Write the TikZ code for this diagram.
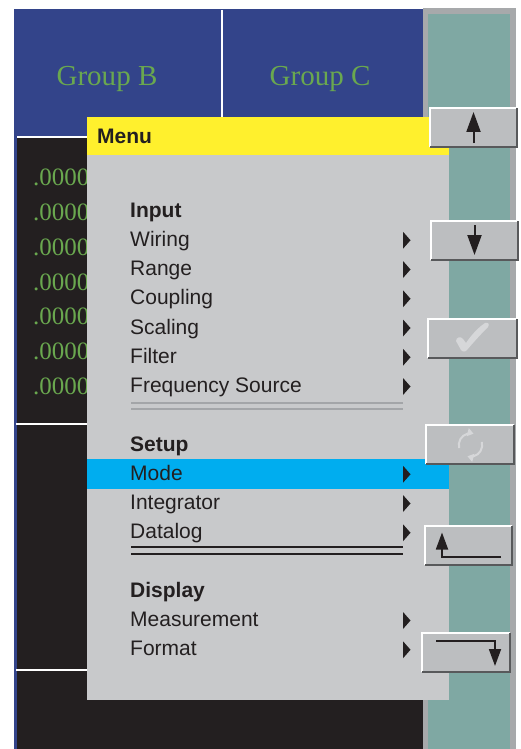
\documentclass[tikz,border=0pt]{standalone}
\usepackage{fontspec}
\setmainfont{Liberation Serif}
\newfontfamily\hvfont{Liberation Sans}
\usetikzlibrary{arrows.meta,calc}
\definecolor{panelblue}{HTML}{33448A}
\definecolor{grpgreen}{HTML}{6AA84F}
\definecolor{scrblack}{HTML}{231F20}
\definecolor{colgray}{HTML}{A7A9AB}
\definecolor{colteal}{HTML}{7FA8A3}
\definecolor{menugray}{HTML}{C8C9CB}
\definecolor{menuyellow}{HTML}{FFF02D}
\definecolor{hicyan}{HTML}{00ADEF}
\definecolor{btngray}{HTML}{BCBEC0}
\definecolor{btndark}{HTML}{58595B}
\definecolor{seplight}{HTML}{A3A5A8}
\definecolor{iconlight}{HTML}{D6D7D9}
\tikzset{
  grouptext/.style={text=grpgreen, font=\fontsize{29}{30}\selectfont, inner sep=0pt, anchor=base},
  numtext/.style={text=grpgreen, font=\fontsize{25}{26}\selectfont, inner sep=0pt, anchor=base west},
  itemtext/.style={text=scrblack, font=\hvfont\fontsize{21}{22}\selectfont, inner sep=0pt, anchor=base west},
  headtext/.style={itemtext, font=\hvfont\bfseries\fontsize{21}{22}\selectfont},
  btnbox/.style={fill=btngray, inner sep=0pt, outer sep=0pt, minimum height=39pt},
  litedge/.style={white, line width=2pt},
  drkedge/.style={btndark, line width=2pt},
  btnarrow/.style={scrblack, line width=2pt, -{Triangle[length=20pt,width=14pt]}},
  btnarrowsm/.style={scrblack, line width=1.8pt, -{Triangle[length=17pt,width=12pt]}},
  refarc/.style={iconlight, line width=2pt, -{Triangle[length=6pt,width=8pt]}},
  sublight/.style={seplight, line width=2pt},
  subdark/.style={scrblack, line width=2pt},
  wline/.style={white, line width=2pt}
}
\begin{document}
\begin{tikzpicture}[x=1pt,y=-1pt]
\useasboundingbox (0,0) rectangle (521,749);
\fill[white] (0,0) rectangle (521,749);
% screen
\fill[panelblue] (14,9) rectangle (423,749);
\fill[scrblack] (17,138) rectangle (423,749);
\fill[colgray] (423,8) rectangle (516,749);
\fill[colteal] (428,14) rectangle (510,749);
\draw[wline] (222,10) -- (222,118);
\draw[wline] (17,137) -- (88,137);
\draw[wline] (16,424) -- (88,424);
\draw[wline] (16,670) -- (88,670);
\node[grouptext] (grpB) at (107,86) {Group B};
\node[grouptext] (grpC) at (320,86) {Group C};
\foreach \i/\yy in {1/185,2/220,3/255,4/290,5/324,6/359,7/394}
  \node[numtext] (num\i) at (33,\yy) {.0000};
% menu
\fill[menugray] (87,155) rectangle (449,700);
\fill[menuyellow] (87,117) rectangle (449,155);
\fill[hicyan] (87,459) rectangle (449,489);
\node[headtext] (mtitle) at (97,143) {Menu};
\node[headtext] (hInput) at (130,217) {Input};
\node[itemtext] (iWiring) at (130,246.25) {Wiring};
\node[itemtext] (iRange) at (130,275.5) {Range};
\node[itemtext] (iCoupling) at (130,304.75) {Coupling};
\node[itemtext] (iScaling) at (130,334) {Scaling};
\node[itemtext] (iFilter) at (130,363.25) {Filter};
\node[itemtext] (iFreq) at (130,392.5) {Frequency Source};
\node[headtext] (hSetup) at (130,451) {Setup};
\node[itemtext] (iMode) at (130,480.25) {Mode};
\node[itemtext] (iIntegrator) at (130,509.5) {Integrator};
\node[itemtext] (iDatalog) at (130,538.75) {Datalog};
\node[headtext] (hDisplay) at (130,597.25) {Display};
\node[itemtext] (iMeas) at (130,626.5) {Measurement};
\node[itemtext] (iFormat) at (130,655.75) {Format};
\draw[sublight] (131,402.7) -- (403,402.7);
\draw[sublight] (131,409.3) -- (403,409.3);
\draw[subdark] (131,546.7) -- (403,546.7);
\draw[subdark] (131,553.7) -- (403,553.7);
\foreach \b in {246.25,275.5,304.75,334,363.25,392.5,480.25,509.5,538.75,626.5,655.75}
  \fill[scrblack] (403,\b-14.5) -- (410.5,\b-6) -- (403,\b+2.5) -- cycle;
% buttons
\node[btnbox, minimum width=87pt] (bUp) at (473.5,127.5) {};
\node[btnbox, minimum width=87pt] (bDown) at (474.5,240.5) {};
\node[btnbox, minimum width=89pt] (bOk) at (472.5,338.5) {};
\node[btnbox, minimum width=88pt] (bRef) at (470,444.5) {};
\node[btnbox, minimum width=87pt] (bBack) at (468.5,545.5) {};
\node[btnbox, minimum width=88pt] (bNext) at (466,652.5) {};
\foreach \n in {bUp,bDown,bOk,bRef,bBack,bNext}{
  \draw[litedge] (\n.south west) -- (\n.north west) -- (\n.north east);
  \draw[drkedge] (\n.south west) -- (\n.south east) -- (\n.north east);
}
\draw[btnarrow] ($(bUp)+(0,15.5)$) -- ($(bUp)+(0,-15.5)$);
\draw[btnarrow] ($(bDown)+(0,-15.5)$) -- ($(bDown)+(0,14.5)$);
% check mark icon
\fill[iconlight] (456,341) .. controls (456,337) and (461,336) .. (463,339)
  -- (466,343) .. controls (472,334) and (479,327) .. (485,323)
  .. controls (488,322) and (490,324) .. (488,327)
  .. controls (480,335) and (472,344) .. (467,350)
  .. controls (466,352) and (462,352) .. (461,350) -- cycle;
% refresh icon
\draw[refarc] ($(bRef)+(0.5,0.5)$) ++(165:11.7) arc[start angle=165, end angle=285, radius=11.7];
\draw[refarc] ($(bRef)+(0.5,0.5)$) ++(-15:11.7) arc[start angle=-15, end angle=105, radius=11.7];
\draw[btnarrowsm] ($(bBack)+(32.5,11.5)$) -- ($(bBack)+(-26.5,11.5)$) -- ($(bBack)+(-26.5,-13)$);
\draw[btnarrowsm] ($(bNext)+(-30,-11.5)$) -- ($(bNext)+(29,-11.5)$) -- ($(bNext)+(29,13.5)$);
\end{tikzpicture}
\end{document}
